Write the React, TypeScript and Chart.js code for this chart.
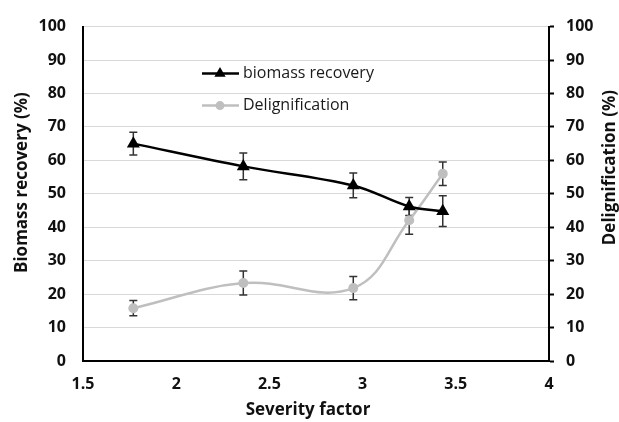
import React, { useEffect, useRef } from "react";
import { Chart, registerables } from "chart.js";

Chart.register(...registerables);

const severity = [1.77, 2.36, 2.95, 3.25, 3.43];
const biomass = [65.0, 58.2, 52.5, 46.2, 44.8];
const biomassErr = [3.4, 4.0, 3.7, 2.7, 4.6];
const delign = [15.8, 23.3, 21.8, 42.1, 56.0];
const delignErr = [2.3, 3.6, 3.5, 4.2, 3.5];
const xTicks = [1.5, 2, 2.5, 3, 3.5, 4];
const yTicks = [0, 10, 20, 30, 40, 50, 60, 70, 80, 90, 100];
const seriesNames = ["biomass recovery", "Delignification"];
const xTitle = "Severity factor";
const yTitle = "Biomass recovery (%)";
const y1Title = "Delignification (%)";

const FONT = "'Open Sans', 'DejaVu Sans', sans-serif";
const BLACK = "#000000";
const GRAY = "#bfbfbf";
const TEXT = "#111111";

const errorBarPlugin = {
  id: "errorBars",
  beforeDatasetsDraw(chart: any) {
    const ctx = chart.ctx;
    const xs = chart.scales.x;
    const errs = [biomassErr, delignErr];
    chart.data.datasets.forEach((ds: any, i: number) => {
      const ys = chart.scales[ds.yAxisID];
      ctx.save();
      ctx.strokeStyle = "#333333";
      ctx.lineWidth = 1.5;
      ds.data.forEach((p: any, j: number) => {
        const x = xs.getPixelForValue(p.x);
        const y1 = ys.getPixelForValue(p.y + errs[i][j]);
        const y2 = ys.getPixelForValue(p.y - errs[i][j]);
        ctx.beginPath();
        ctx.moveTo(x, y1);
        ctx.lineTo(x, y2);
        ctx.moveTo(x - 4, y1);
        ctx.lineTo(x + 4, y1);
        ctx.moveTo(x - 4, y2);
        ctx.lineTo(x + 4, y2);
        ctx.stroke();
      });
      ctx.restore();
    });
  },
};

const titlesPlugin = {
  id: "axisTitles",
  afterDraw(chart: any) {
    const ctx = chart.ctx;
    const a = chart.chartArea;
    ctx.save();
    ctx.fillStyle = TEXT;
    ctx.font = `bold 17px ${FONT}`;
    ctx.textAlign = "center";
    ctx.textBaseline = "middle";
    ctx.fillText(xTitle, a.left + 225, a.bottom + 49);
    const items = [
      { x: 22, y: a.top + 156, t: yTitle },
      { x: a.right + 61, y: a.top + 141, t: y1Title },
    ];
    items.forEach((it) => {
      ctx.save();
      ctx.translate(it.x, it.y);
      ctx.rotate(-Math.PI / 2);
      ctx.fillText(it.t, 0, 0);
      ctx.restore();
    });
    ctx.restore();
  },
};

const legendPlugin = {
  id: "innerLegend",
  afterDatasetsDraw(chart: any) {
    const ctx = chart.ctx;
    const a = chart.chartArea;
    const x0 = a.left + 119;
    const rows = [
      { y: a.top + 47, color: BLACK, style: "triangle", r: 6.5, label: seriesNames[0] },
      { y: a.top + 79, color: GRAY, style: "circle", r: 4.5, label: seriesNames[1] },
    ];
    rows.forEach((row) => {
      ctx.save();
      ctx.strokeStyle = row.color;
      ctx.lineWidth = 2.5;
      ctx.beginPath();
      ctx.moveTo(x0, row.y);
      ctx.lineTo(x0 + 37, row.y);
      ctx.stroke();
      ctx.fillStyle = row.color;
      const cx = x0 + 18;
      if (row.style === "triangle") {
        ctx.beginPath();
        ctx.moveTo(cx, row.y - row.r);
        ctx.lineTo(cx + row.r * 0.866, row.y + row.r * 0.5);
        ctx.lineTo(cx - row.r * 0.866, row.y + row.r * 0.5);
        ctx.closePath();
        ctx.fill();
      } else {
        ctx.beginPath();
        ctx.arc(cx, row.y, row.r, 0, Math.PI * 2);
        ctx.fill();
      }
      ctx.fillStyle = "#1a1a1a";
      ctx.font = `16px ${FONT}`;
      ctx.textBaseline = "middle";
      ctx.textAlign = "left";
      ctx.fillText(row.label, x0 + 41, row.y);
      ctx.restore();
    });
  },
};

export default function App() {
  const ref = useRef<HTMLCanvasElement | null>(null);
  useEffect(() => {
    if (!ref.current) return;
    const tickFont = { family: FONT, size: 16, weight: "bold" };
    const chart = new Chart(ref.current, {
      type: "line",
      data: {
        datasets: [
          {
            label: seriesNames[0],
            data: severity.map((x, i) => ({ x, y: biomass[i] })),
            yAxisID: "y",
            borderColor: BLACK,
            backgroundColor: BLACK,
            borderWidth: 2.5,
            pointStyle: "triangle",
            pointRadius: 7.5,
            pointBorderWidth: 0,
            tension: 0.35,
          },
          {
            label: seriesNames[1],
            data: severity.map((x, i) => ({ x, y: delign[i] })),
            yAxisID: "y1",
            borderColor: GRAY,
            backgroundColor: GRAY,
            borderWidth: 2.5,
            pointStyle: "circle",
            pointRadius: 5,
            pointBorderWidth: 0,
            tension: 0.4,
          },
        ],
      },
      options: {
        responsive: false,
        animation: false,
        layout: { padding: { top: 20, left: 0, right: 0, bottom: 0 } },
        plugins: { legend: { display: false }, tooltip: { enabled: false } },
        scales: {
          x: {
            type: "linear",
            min: 1.5,
            max: 4,
            afterBuildTicks: (s: any) => {
              s.ticks = xTicks.map((v) => ({ value: v }));
            },
            grid: { display: false, drawTicks: false },
            border: { color: BLACK, width: 2 },
            ticks: {
              color: TEXT,
              font: tickFont,
              padding: 14,
              callback: (v: any) => String(v),
            },
            afterFit: (s: any) => {
              s.height = 61;
            },
          },
          y: {
            position: "left",
            min: 0,
            max: 100,
            afterBuildTicks: (s: any) => {
              s.ticks = yTicks.map((v) => ({ value: v }));
            },
            grid: { color: "#d9d9d9", lineWidth: 1, drawTicks: false },
            border: { color: BLACK, width: 2 },
            ticks: { color: TEXT, font: tickFont, padding: 17 },
            afterFit: (s: any) => {
              s.width = 83;
            },
          },
          y1: {
            position: "right",
            min: 0,
            max: 100,
            afterBuildTicks: (s: any) => {
              s.ticks = yTicks.map((v) => ({ value: v }));
            },
            grid: {
              drawOnChartArea: false,
              drawTicks: true,
              tickLength: 5,
              tickColor: BLACK,
              tickWidth: 2,
            },
            border: { color: BLACK, width: 2 },
            ticks: { color: TEXT, font: tickFont, padding: 12 },
            afterFit: (s: any) => {
              s.width = 70;
            },
          },
        },
      } as any,
      plugins: [errorBarPlugin, legendPlugin, titlesPlugin],
    });
    return () => chart.destroy();
  }, []);
  return (
    <div style={{ position: "absolute", left: 0, top: 0, width: 619, height: 422, background: "#fff" }}>
      <canvas ref={ref} width={619} height={422} />
    </div>
  );
}
